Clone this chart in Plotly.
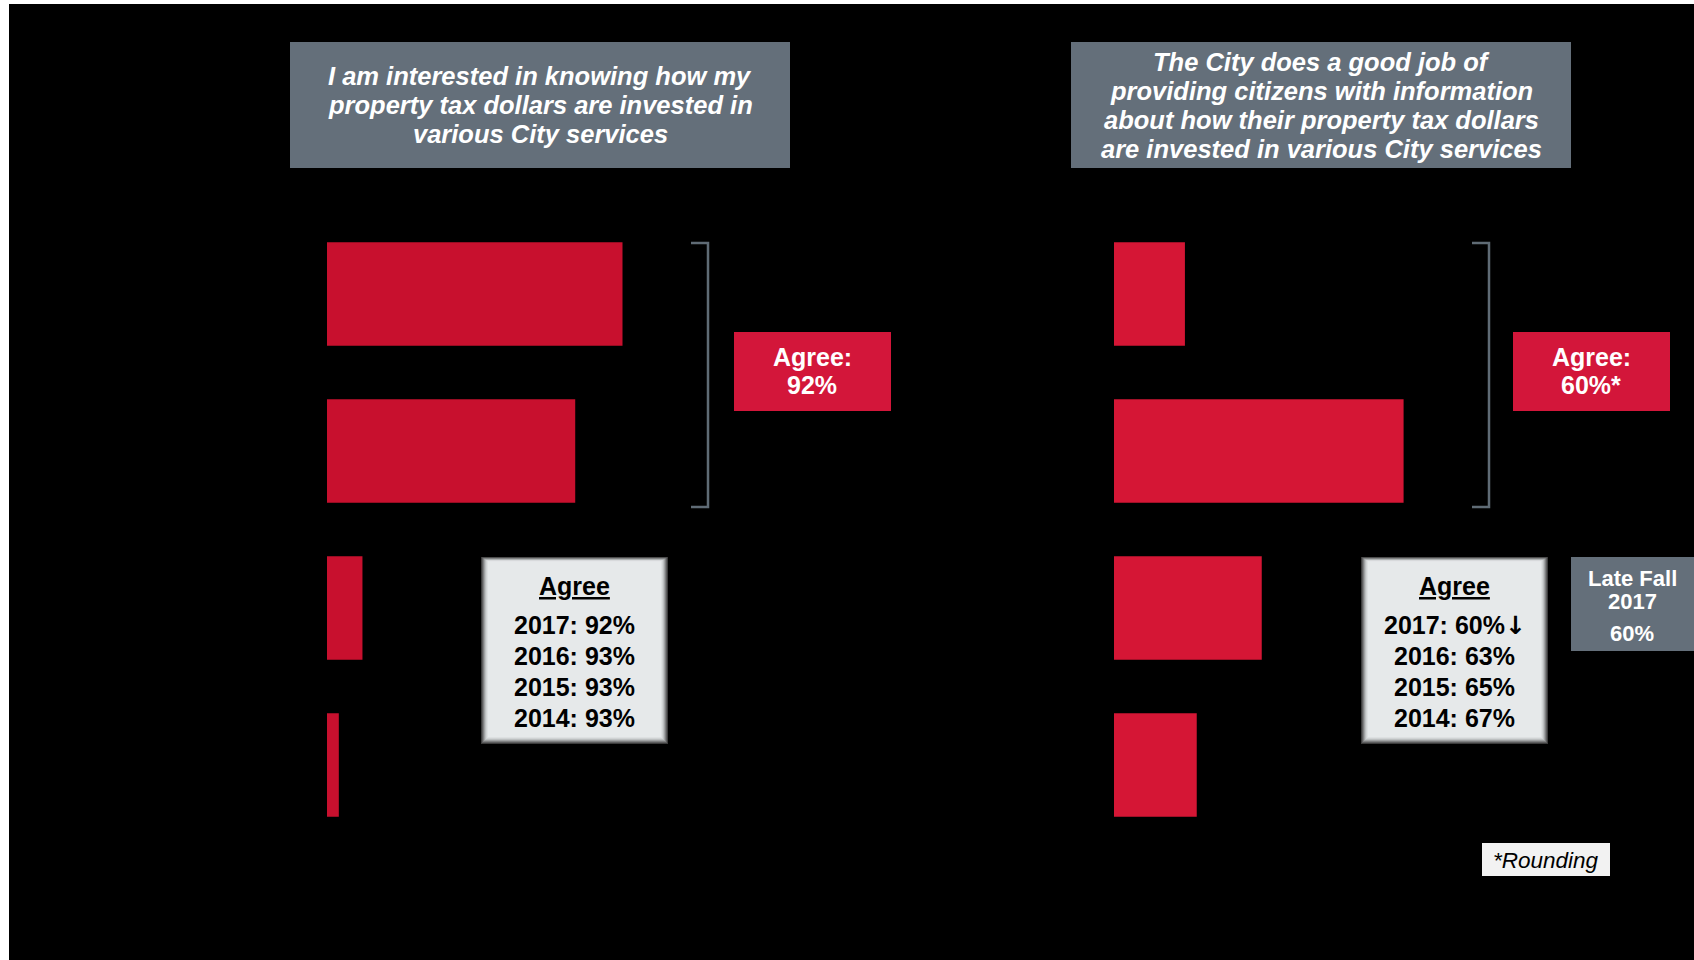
import plotly.graph_objects as go

W, H = 1694, 960
OX, OY = 9, 4          # page offset of the figure
FW, FH = W - OX, H - OY

# ---- data ----
categories = ["Strongly agree", "Somewhat agree", "Somewhat disagree", "Strongly disagree"]
left_values = [50, 42, 6, 2]
right_values = [12, 49, 25, 14]
left_title = ["I am interested in knowing how my", "property tax dollars are invested in",
              "various City services"]
right_title = ["The City does a good job of", "providing citizens with information",
               "about how their property tax dollars", "are invested in various City services"]
left_agree = "92%"
right_agree = "60%*"
left_history = ["2017: 92%", "2016: 93%", "2015: 93%", "2014: 93%"]
right_history = ["2017: 60%", "2016: 63%", "2015: 65%", "2014: 67%"]
right_trend = "\u2193"
late_fall_label = ["Late Fall", "2017"]
late_fall_value = "60%"
footnote = "*Rounding"

# ---- styles ----
LEFT_BAR = "#C8102E"
RIGHT_BAR = "#D51635"
AGREE_BOX = "#D3163A"
GRAY_BOX = "#646F7A"
BRACKET = "#5F6B75"
FONT = "Liberation Sans, Arial, sans-serif"


def px(x):
    return (x - OX) / FW


def py(y):
    return 1 - (y - OY) / FH


fig = go.Figure()
fig.add_trace(go.Bar(y=categories, x=left_values, orientation="h",
                     marker=dict(color=LEFT_BAR, line=dict(width=0)),
                     xaxis="x", yaxis="y", hoverinfo="x+y", showlegend=False))
fig.add_trace(go.Bar(y=categories, x=right_values, orientation="h",
                     marker=dict(color=RIGHT_BAR, line=dict(width=0)),
                     xaxis="x2", yaxis="y2", hoverinfo="x+y", showlegend=False))

shapes = []
annotations = []


def rect(x0, y0, x1, y1, color):
    shapes.append(dict(type="rect", xref="paper", yref="paper",
                       x0=px(x0), x1=px(x1), y0=py(y1), y1=py(y0),
                       fillcolor=color, line=dict(width=0), layer="above"))


def text(x, y, t, size, color, bold=True, italic=False):
    s = t
    if bold:
        s = "<b>" + s + "</b>"
    if italic:
        s = "<i>" + s + "</i>"
    annotations.append(dict(xref="paper", yref="paper", x=px(x), y=py(y), text=s,
                            showarrow=False, xanchor="center", yanchor="middle",
                            align="center",
                            font=dict(family=FONT, size=size, color=color)))


# Title boxes
rect(290, 42, 790, 168, GRAY_BOX)
for i, ln in enumerate(left_title):
    text(540, 76 + i * 29, ln, 25.5, "white", True, True)
rect(1071, 42, 1571, 168, GRAY_BOX)
for i, ln in enumerate(right_title):
    text(1321, 62 + i * 29, ln, 25.5, "white", True, True)

# Brackets
for xb in (708, 1489):
    shapes.append(dict(type="path", xref="paper", yref="paper",
                       path=f"M {px(xb-17)},{py(243)} L {px(xb)},{py(243)} L {px(xb)},{py(507)} L {px(xb-17)},{py(507)}",
                       line=dict(color=BRACKET, width=2.5), layer="above"))

# Agree boxes
rect(734, 332, 891, 411, AGREE_BOX)
text(812, 357, "Agree:", 25, "white")
text(812, 385, left_agree, 25, "white")
rect(1513, 332, 1670, 411, AGREE_BOX)
text(1591, 357, "Agree:", 25, "white")
text(1591, 385, right_agree, 25, "white")


# History boxes with inner shadow
def history_box(x0, x1, lines, trend=None):
    y0, y1 = 557, 744
    shades = ["#3c3c3c", "#5e5e5f", "#7f8081", "#a0a2a3", "#bcbfc0", "#d0d3d4", "#dde0e1", "#e6e9ea"]
    for i, c in enumerate(shades):
        rect(x0 + i, y0 + i * 0.6, x1 - i, y1 - i, c)
    cx = (x0 + x1) / 2
    text(cx, 586, "<u>Agree</u>", 25, "black")
    for i, ln in enumerate(lines):
        t = ln
        if trend and i == 0:
            t = ln + "<span style='font-family:DejaVu Sans'>" + trend + "</span>"
        text(cx, 625 + i * 31, t, 25, "black")


history_box(481, 668, left_history)
history_box(1361, 1548, right_history, right_trend)

# Late Fall box
rect(1571, 557, 1700, 651, GRAY_BOX)
text(1632, 578, late_fall_label[0], 22, "white")
text(1632, 601, late_fall_label[1], 22, "white")
text(1632, 633, late_fall_value, 22, "white")

# Footnote
rect(1482, 843, 1610, 876, "#F2F2F2")
text(1546, 860, footnote, 22.5, "black", False, True)

ydom = [py(843.5), py(215.5)]
fig.update_layout(
    width=FW, height=FH,
    margin=dict(l=0, r=0, t=0, b=0),
    paper_bgcolor="black", plot_bgcolor="black",
    bargap=0.34,
    xaxis=dict(domain=[px(327), px(327 + 591)], range=[0, 100], visible=False, fixedrange=True),
    xaxis2=dict(domain=[px(1114), px(1114 + 531.9)], range=[0, 90], visible=False, fixedrange=True),
    yaxis=dict(domain=ydom, range=[3.5, -0.5], visible=False, anchor="x", fixedrange=True),
    yaxis2=dict(domain=ydom, range=[3.5, -0.5], visible=False, anchor="x2", fixedrange=True),
    shapes=shapes,
    annotations=annotations,
    showlegend=False,
)

fig.write_html("out.html", config={"displayModeBar": False},
               post_script=f"document.body.style.margin='{OY}px 0 0 {OX}px';"
                           "document.body.style.overflow='hidden';")
